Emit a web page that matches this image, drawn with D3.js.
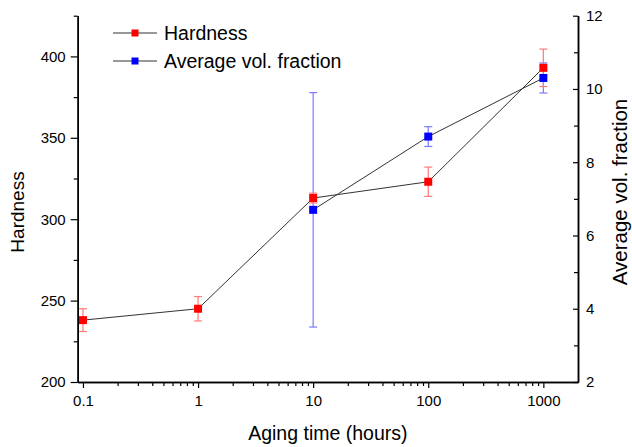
<!DOCTYPE html>
<html lang="en">
<head>
    <meta charset="UTF-8">
    <title>Hardness and volume fraction vs aging time</title>
    <script src="https://d3js.org/d3.v7.min.js"></script>
    <style>
        body { margin: 0; background: #fff; }
        svg { display: block; font-family: "Liberation Sans", Arial, sans-serif; }
        .axis path, .axis line { stroke: #000; }
        .axis path { stroke-width: 1.5px; }
        .axis line { stroke-width: 1.2px; }
        .axis text { font-size: 15px; fill: #000; font-family: "Liberation Sans", Arial, sans-serif; }
    </style>
</head>
<body>
<div id="chart"></div>
<script>
    // data
    var hoursH = [0.1, 1, 10, 100, 1000];
    var hardness = [238, 245, 313, 323, 393];
    var hardnessErr = [7, 7.5, 3, 9, 11.5];

    var hoursV = [10, 100, 1000];
    var volFrac = [6.7, 8.7, 10.3];
    var volErr = [3.2, 0.27, 0.41];

    var xMajor = [0.1, 1, 10, 100, 1000];
    var leftMajor = [200, 250, 300, 350, 400];
    var rightMajor = [2, 4, 6, 8, 10, 12];

    function chart() {
        var w = 632, h = 447;
        var x0 = 77.7, x1 = 578, y0 = 15.7, y1 = 382;

        var svg = d3.select("#chart").append("svg")
            .attr("width", w)
            .attr("height", h);

        var x = d3.scaleLog().domain([0.09, 2000]).range([x0, x1]);
        var yL = d3.scaleLinear().domain([200, 425]).range([y1, y0]);
        var yR = d3.scaleLinear().domain([2, 12]).range([y1, y0]);

        // minor ticks
        var xMinor = [];
        [0.1, 1, 10, 100].forEach(function (d) {
            for (var k = 2; k <= 9; k++) xMinor.push(d * k);
        });
        var leftMinor = d3.range(225, 426, 50);
        var rightMinor = d3.range(3, 12, 2);

        // bottom axis
        svg.append("g").attr("class", "axis")
            .attr("transform", `translate(0,${y1})`)
            .call(d3.axisBottom(x).tickValues(xMinor).tickFormat("").tickSize(4).tickSizeOuter(0));
        svg.append("g").attr("class", "axis")
            .attr("transform", `translate(0,${y1})`)
            .call(d3.axisBottom(x).tickValues(xMajor).tickFormat(d3.format("")).tickSize(6).tickSizeOuter(0).tickPadding(7));

        // left axis
        svg.append("g").attr("class", "axis")
            .attr("transform", `translate(${x0},0)`)
            .call(d3.axisLeft(yL).tickValues(leftMinor).tickFormat("").tickSize(4).tickSizeOuter(0));
        svg.append("g").attr("class", "axis")
            .attr("transform", `translate(${x0},0)`)
            .call(d3.axisLeft(yL).tickValues(leftMajor).tickSize(7).tickSizeOuter(0).tickPadding(5));

        // right axis, ticks point inward
        svg.append("g").attr("class", "axis")
            .attr("transform", `translate(${x1},0)`)
            .call(d3.axisRight(yR).tickValues(rightMinor).tickFormat("").tickSize(-4).tickSizeOuter(0));
        svg.append("g").attr("class", "axis")
            .attr("transform", `translate(${x1},0)`)
            .call(d3.axisRight(yR).tickValues(rightMajor).tickSize(-5).tickSizeOuter(0).tickPadding(8));

        // axis titles
        svg.append("text")
            .attr("x", (x0 + x1) / 2)
            .attr("y", 440)
            .attr("text-anchor", "middle")
            .style("font-size", "19.5px")
            .text("Aging time (hours)");

        svg.append("text")
            .attr("transform", "translate(24,212) rotate(-90)")
            .attr("text-anchor", "middle")
            .style("font-size", "19px")
            .text("Hardness");

        svg.append("text")
            .attr("transform", "translate(627,192) rotate(-90)")
            .attr("text-anchor", "middle")
            .style("font-size", "20.5px")
            .text("Average vol. fraction");

        // lines
        var lineH = d3.line().x((d, i) => x(hoursH[i])).y(d => yL(d));
        var lineV = d3.line().x((d, i) => x(hoursV[i])).y(d => yR(d));

        svg.append("path").datum(hardness)
            .attr("d", lineH).attr("fill", "none").attr("stroke", "#333").attr("stroke-width", 1);
        svg.append("path").datum(volFrac)
            .attr("d", lineV).attr("fill", "none").attr("stroke", "#333").attr("stroke-width", 1);

        function errorBars(xs, vals, errs, y, color) {
            var g = svg.append("g").attr("stroke", color).attr("stroke-width", 1.2);
            vals.forEach(function (v, i) {
                var cx = x(xs[i]);
                var lo = y(v - errs[i]), hi = y(v + errs[i]);
                g.append("line").attr("x1", cx).attr("x2", cx).attr("y1", lo).attr("y2", hi);
                g.append("line").attr("x1", cx - 4).attr("x2", cx + 4).attr("y1", lo).attr("y2", lo);
                g.append("line").attr("x1", cx - 4).attr("x2", cx + 4).attr("y1", hi).attr("y2", hi);
            });
        }
        errorBars(hoursV, volFrac, volErr, yR, "#7a7aff");
        errorBars(hoursH, hardness, hardnessErr, yL, "#ff7a7a");

        var s = 8;
        svg.append("g").selectAll("rect")
            .data(volFrac).enter().append("rect")
            .attr("x", (d, i) => x(hoursV[i]) - s / 2)
            .attr("y", d => yR(d) - s / 2)
            .attr("width", s).attr("height", s)
            .attr("fill", "#0000ff");
        svg.append("g").selectAll("rect")
            .data(hardness).enter().append("rect")
            .attr("x", (d, i) => x(hoursH[i]) - s / 2)
            .attr("y", d => yL(d) - s / 2)
            .attr("width", s).attr("height", s)
            .attr("fill", "#ff0000");

        // legend
        var legend = [
            { name: "Hardness", color: "#ff0000", y: 33 },
            { name: "Average vol. fraction", color: "#0000ff", y: 61 }
        ];
        var lg = svg.append("g").selectAll("g").data(legend).enter().append("g");
        lg.append("line")
            .attr("x1", 113).attr("x2", 157)
            .attr("y1", d => d.y).attr("y2", d => d.y)
            .attr("stroke", "#333").attr("stroke-width", 1);
        lg.append("rect")
            .attr("x", 135 - 3.5).attr("y", d => d.y - 3.5)
            .attr("width", 7).attr("height", 7)
            .attr("fill", d => d.color);
        lg.append("text")
            .attr("x", 164).attr("y", d => d.y + 7)
            .style("font-size", "19.5px")
            .text(d => d.name);
    }

    chart();
</script>
</body>
</html>
